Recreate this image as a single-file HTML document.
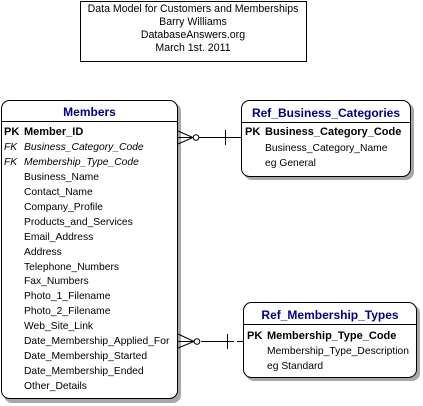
<!DOCTYPE html>
<html><head><meta charset="utf-8"><style>
html,body{margin:0;padding:0;background:#fff;}
svg{display:block;}
text{font-family:"Liberation Sans",Arial,sans-serif;font-size:10.3px;fill:#000;}
.t{font-size:10.6px;}
.h{font-size:12px;font-weight:bold;fill:#00007f;}
.b{font-weight:bold;font-size:11px;}
.i{font-style:italic;}
</style></head><body>
<svg width="423" height="406" viewBox="0 0 423 406" xmlns="http://www.w3.org/2000/svg">
<rect x="80.5" y="1.5" width="226" height="60" fill="#fff" stroke="#000"/>
<text x="193" y="12" text-anchor="middle" class="t">Data Model for Customers and Memberships</text>
<text x="193" y="25" text-anchor="middle" class="t">Barry Williams</text>
<text x="193" y="38" text-anchor="middle" class="t">DatabaseAnswers.org</text>
<text x="193" y="51" text-anchor="middle" class="t">March 1st. 2011</text>

<!-- Members -->
<rect x="4" y="103" width="177" height="300" rx="8" fill="#a8a8a8"/>
<rect x="1.5" y="100.5" width="176" height="298" rx="8" fill="#fff" stroke="#000"/>
<line x1="1.5" y1="121.5" x2="177.5" y2="121.5" stroke="#000"/>
<text x="89.5" y="116" text-anchor="middle" class="h">Members</text>
<text x="4" y="135" class="b">PK</text><text x="24" y="135" class="b">Member_ID</text>
<text x="4" y="150" class="i">FK</text><text x="24" y="150" class="i">Business_Category_Code</text>
<text x="4" y="165" class="i">FK</text><text x="24" y="165" class="i">Membership_Type_Code</text>
<text x="24" y="180">Business_Name</text>
<text x="24" y="195">Contact_Name</text>
<text x="24" y="210">Company_Profile</text>
<text x="24" y="225">Products_and_Services</text>
<text x="24" y="240">Email_Address</text>
<text x="24" y="255">Address</text>
<text x="24" y="270">Telephone_Numbers</text>
<text x="24" y="284">Fax_Numbers</text>
<text x="24" y="299">Photo_1_Filename</text>
<text x="24" y="314">Photo_2_Filename</text>
<text x="24" y="329">Web_Site_Link</text>
<text x="24" y="344">Date_Membership_Applied_For</text>
<text x="24" y="359">Date_Membership_Started</text>
<text x="24" y="374">Date_Membership_Ended</text>
<text x="24" y="389">Other_Details</text>

<!-- Ref_Business_Categories -->
<rect x="244" y="103" width="170" height="77" rx="8" fill="#a8a8a8"/>
<rect x="241.5" y="100.5" width="169" height="76" rx="8" fill="#fff" stroke="#000"/>
<line x1="241.5" y1="122.5" x2="410.5" y2="122.5" stroke="#000"/>
<text x="326" y="117" text-anchor="middle" class="h">Ref_Business_Categories</text>
<text x="245" y="135" class="b">PK</text><text x="265" y="135" class="b">Business_Category_Code</text>
<text x="265" y="151">Business_Category_Name</text>
<text x="265" y="166">eg  General</text>

<!-- Ref_Membership_Types -->
<rect x="246" y="305" width="174" height="76" rx="8" fill="#a8a8a8"/>
<rect x="243.5" y="302.5" width="173" height="75" rx="8" fill="#fff" stroke="#000"/>
<line x1="243.5" y1="324.5" x2="416.5" y2="324.5" stroke="#000"/>
<text x="330" y="319" text-anchor="middle" class="h">Ref_Membership_Types</text>
<text x="247" y="339" class="b">PK</text><text x="267" y="339" class="b">Membership_Type_Code</text>
<text x="267" y="354">Membership_Type_Description</text>
<text x="267" y="369">eg  Standard</text>

<g stroke="#000" fill="none">
<path d="M178 131 L193 137.5 L178 144 M178 137.5 L193 137.5"/>
<circle cx="196" cy="137.5" r="2.8" fill="#fff"/>
<line x1="199" y1="137.5" x2="241" y2="137.5"/>
<line x1="225.5" y1="130" x2="225.5" y2="145"/>
<path d="M178 334 L194 341.5 L178 348 M178 341.5 L194 341.5"/>
<circle cx="197" cy="341.5" r="2.8" fill="#fff"/>
<line x1="201" y1="341.5" x2="234" y2="341.5"/>
<line x1="227.5" y1="334" x2="227.5" y2="349"/>
<line x1="237" y1="341.5" x2="243" y2="341.5"/>
</g>
</svg>
</body></html>
